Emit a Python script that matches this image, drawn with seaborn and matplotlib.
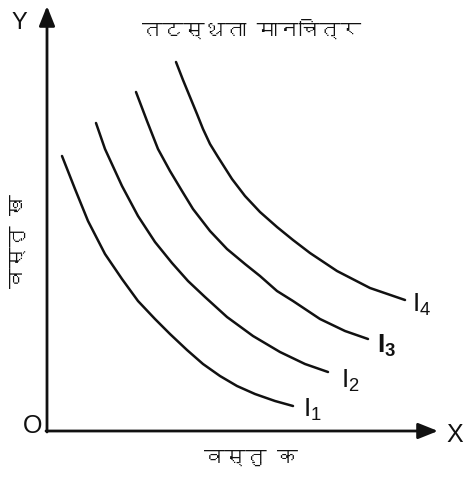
import matplotlib
matplotlib.use("Agg")
import matplotlib.pyplot as plt
from matplotlib import font_manager
from matplotlib.ft2font import FT2Font
import numpy as np
import pandas as pd
import seaborn as sns

# ---------------- data ----------------
i1_x = [15, 28, 41, 58, 75, 91, 108, 123, 140, 156, 173, 190, 208, 228, 246]
i1_y = [275, 242, 210, 177, 152, 130, 112, 97, 81, 67, 55, 45, 37, 30, 25]

i2_x = [49, 58, 75, 91, 108, 125, 141, 158, 180, 206, 233, 258, 281]
i2_y = [308, 282, 245, 215, 189, 168, 150, 134, 114, 95, 79, 67, 59]

i3_x = [89, 100, 111, 123, 135, 146, 163, 180, 198, 213, 230, 246, 273, 298, 321]
i3_y = [339, 310, 282, 260, 240, 222, 200, 182, 167, 155, 140, 130, 112, 100, 92]

i4_x = [129, 136, 143, 150, 156, 163, 171, 185, 198, 213, 230, 246, 263, 290, 323, 358]
i4_y = [369, 351, 334, 317, 302, 287, 274, 252, 235, 219, 204, 191, 178, 160, 143, 131]

curve_names = ["I1", "I2", "I3", "I4"]
curve_labels = [r"I$_1$", r"I$_2$", r"I$_3$", r"I$_4$"]

title_text = "तटस्थता मानचित्र"
x_label = "वस्तु क"
y_label = "वस्तु ख"

# ---------------- fonts ----------------
def find_font(ch):
    for f in font_manager.fontManager.ttflist:
        try:
            if ord(ch) in FT2Font(f.fname).get_charmap():
                return f.name
        except Exception:
            pass
    return None

sns.set_theme(style="white")
deva = find_font("त")
deva_family = [deva, "DejaVu Sans"] if deva else ["DejaVu Sans"]
plt.rcParams["font.family"] = ["Liberation Sans", "DejaVu Sans"]
plt.rcParams["mathtext.fontset"] = "custom"
plt.rcParams["mathtext.rm"] = "Liberation Sans"
plt.rcParams["mathtext.default"] = "regular"

# ---------------- build table ----------------
frames = []
for name, xs, ys in zip(curve_names, [i1_x, i2_x, i3_x, i4_x], [i1_y, i2_y, i3_y, i4_y]):
    frames.append(pd.DataFrame({"x": xs, "y": ys, "curve": name}))
df = pd.concat(frames, ignore_index=True)

# ---------------- figure ----------------
fig = plt.figure(figsize=(4.65, 4.81), dpi=100)
fig.patch.set_facecolor("white")
ax = fig.add_axes([0, 0, 1, 1])
ax.set_xlim(-47, 418)
ax.set_ylim(-49, 432)
ax.axis("off")

sns.lineplot(data=df, x="x", y="y", hue="curve", units="curve", estimator=None,
             sort=False, palette=["#111111"] * 4, linewidth=1.8, legend=False, ax=ax)

# axes arrows
arrow_kw = dict(arrowstyle="-|>,head_length=0.6,head_width=0.24", lw=2.0,
                color="#111111", shrinkA=0, shrinkB=0, mutation_scale=20)
ax.annotate("", xy=(391, 0), xytext=(-1, 0), arrowprops=arrow_kw)
ax.annotate("", xy=(0, 425), xytext=(0, -1), arrowprops=arrow_kw)

ax.text(-28, 409, "Y", fontsize=17, ha="center", va="center", color="#111111")
ax.text(408, -3, "X", fontsize=18, ha="center", va="center", color="#111111")
ax.text(-14, 6, "O", fontsize=18, ha="center", va="center", color="#111111")

# curve labels
label_pos = [(256, 15), (294, 44), (330, 79), (365, 120)]
label_weight = ["normal", "normal", "bold", "normal"]
for (lx, ly), lab, w in zip(label_pos, curve_labels, label_weight):
    ax.text(lx, ly, lab, fontsize=19, ha="left", va="baseline", color="#111111",
            fontweight=w)

# hindi texts
ax.text(205, 402, title_text, fontsize=15, ha="center", va="center",
        family=deva_family, fontweight="bold", color="#111111")
ax.text(204, -26, x_label, fontsize=15, ha="center", va="center",
        family=deva_family, fontweight="bold", color="#111111")
ax.text(-29, 191, y_label, fontsize=15, ha="center", va="center", rotation=90,
        family=deva_family, fontweight="bold", color="#111111")

fig.savefig("out.png", dpi=100, facecolor="white")
